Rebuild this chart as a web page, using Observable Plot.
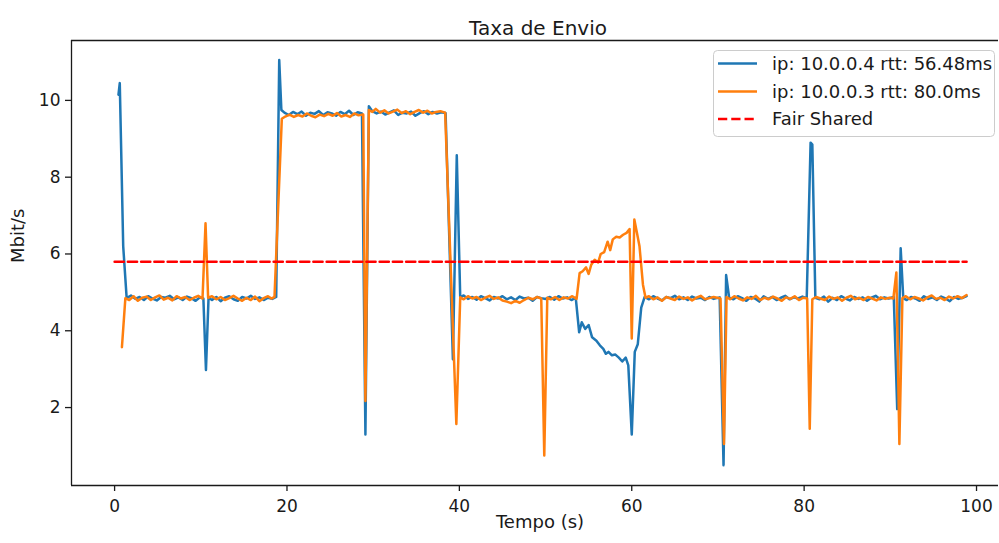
<!DOCTYPE html>
<html>
<head>
<meta charset="utf-8">
<script src="https://cdn.jsdelivr.net/npm/d3@7"></script>
<script src="https://cdn.jsdelivr.net/npm/@observablehq/plot@0.6"></script>
<style>
  html, body { margin: 0; padding: 0; background: #fff; }
  #wrap { position: relative; width: 999px; height: 543px; font-family: "DejaVu Sans", sans-serif; }
  #legend { position: absolute; left: 713px; top: 50px; }
</style>
</head>
<body>
<div id="wrap"></div>
<script>
const title = "Taxa de Envio";
const xLabel = "Tempo (s)";
const yLabel = "Mbit/s";
const xTicks = [0, 20, 40, 60, 80, 100];
const yTicks = [2, 4, 6, 8, 10];
const seriesNames = ["ip: 10.0.0.4 rtt: 56.48ms", "ip: 10.0.0.3 rtt: 80.0ms", "Fair Shared"];
const seriesColors = ["#1f77b4", "#ff7f0e", "#ff0000"];

// ip 10.0.0.4 : [time (s), rate (Mbit/s)]
const blueSeries = [
  [0.45,10.15],[0.6,10.45],[1.0,6.2],[1.4,4.85],
  [1.9,4.92],[2.4,4.83],[2.9,4.88],[3.4,4.80],[3.9,4.90],[4.4,4.84],[4.9,4.79],[5.4,4.88],[5.9,4.86],[6.4,4.91],
  [6.9,4.82],[7.4,4.87],[7.9,4.80],[8.4,4.89],[8.9,4.85],[9.4,4.78],[9.9,4.87],[10.3,4.84],[10.6,2.98],[10.9,4.86],
  [11.3,4.80],[11.8,4.88],[12.3,4.77],[12.8,4.86],[13.3,4.90],[13.8,4.82],[14.3,4.78],[14.8,4.88],[15.3,4.84],
  [15.8,4.91],[16.3,4.83],[16.8,4.87],[17.3,4.80],[17.8,4.86],[18.3,4.83],[18.75,4.88],
  [19.1,11.05],[19.35,9.75],[19.7,9.68],
  [20.2,9.62],[20.7,9.70],[21.2,9.64],[21.7,9.71],[22.2,9.60],[22.7,9.68],[23.2,9.65],[23.7,9.72],[24.2,9.62],
  [24.7,9.69],[25.2,9.66],[25.7,9.60],[26.2,9.70],[26.7,9.64],[27.2,9.73],[27.7,9.62],[28.2,9.69],[28.7,9.66],
  [29.1,1.3],[29.5,9.85],[29.9,9.72],[30.4,9.66],[30.9,9.71],[31.4,9.63],[31.9,9.69],[32.4,9.74],[32.9,9.62],
  [33.4,9.68],[33.9,9.66],[34.4,9.71],[34.9,9.60],[35.4,9.67],[35.9,9.72],[36.4,9.64],[36.9,9.70],[37.4,9.66],
  [37.9,9.69],[38.4,9.67],
  [39.25,3.26],[39.7,8.57],[40.1,4.87],
  [40.5,4.92],[41.0,4.83],[41.5,4.88],[42.0,4.81],[42.5,4.90],[43.0,4.85],[43.5,4.79],[44.0,4.88],[44.5,4.84],
  [45.0,4.90],[45.5,4.82],[46.0,4.87],[46.5,4.80],[47.0,4.89],[47.5,4.84],[48.0,4.86],[48.5,4.78],[49.0,4.88],
  [49.5,4.85],[50.0,4.83],[50.5,4.88],[51.0,4.81],[51.5,4.90],[52.0,4.84],[52.5,4.87],[53.0,4.80],[53.5,4.86],
  [53.9,3.96],[54.2,4.22],[54.6,4.05],[55.0,4.15],[55.4,3.83],[55.9,3.74],[56.3,3.62],[56.7,3.53],[57.0,3.40],
  [57.3,3.45],[57.7,3.36],[58.1,3.38],[58.5,3.30],[58.9,3.20],[59.3,3.30],[59.6,3.10],[60.0,1.3],[60.35,3.45],
  [60.7,3.65],[61.1,4.6],[61.5,4.88],
  [62.0,4.82],[62.5,4.90],[63.0,4.84],[63.5,4.79],[64.0,4.88],[64.5,4.85],[65.0,4.91],[65.5,4.82],[66.0,4.87],
  [66.5,4.80],[67.0,4.89],[67.5,4.84],[68.0,4.86],[68.5,4.80],[69.0,4.88],[69.5,4.83],[70.2,4.87],
  [70.65,0.5],[70.95,5.45],[71.3,4.86],
  [71.8,4.82],[72.3,4.90],[72.8,4.85],[73.3,4.78],[73.8,4.88],[74.3,4.84],[74.8,4.76],[75.3,4.90],[75.8,4.83],
  [76.3,4.88],[76.8,4.80],[77.3,4.86],[77.8,4.91],[78.3,4.82],[78.8,4.87],[79.3,4.84],[79.8,4.89],[80.3,4.85],
  [80.75,8.9],[80.95,8.85],[81.3,4.86],
  [81.8,4.82],[82.3,4.89],[82.8,4.76],[83.3,4.86],[83.8,4.80],[84.3,4.90],[84.8,4.84],[85.3,4.79],[85.8,4.88],
  [86.3,4.83],[86.8,4.87],[87.3,4.78],[87.8,4.86],[88.3,4.91],[88.8,4.82],[89.3,4.87],[89.8,4.84],[90.4,4.88],
  [90.8,1.96],[91.2,6.15],[91.5,4.85],
  [91.9,4.80],[92.4,4.88],[92.9,4.84],[93.4,4.78],[93.9,4.90],[94.4,4.83],[94.9,4.87],[95.4,4.80],[95.9,4.89],
  [96.4,4.84],[96.9,4.77],[97.4,4.88],[97.9,4.83],[98.4,4.86],[98.85,4.90]
];

// ip 10.0.0.3 : [time (s), rate (Mbit/s)]
const orangeSeries = [
  [0.85,3.57],[1.25,4.85],
  [1.7,4.80],[2.2,4.90],[2.7,4.78],[3.2,4.86],[3.7,4.89],[4.2,4.80],[4.7,4.87],[5.2,4.92],[5.7,4.81],[6.2,4.86],
  [6.7,4.79],[7.2,4.90],[7.7,4.84],[8.2,4.88],[8.7,4.80],[9.2,4.86],[9.7,4.91],[10.2,4.84],[10.55,6.8],[10.85,4.86],
  [11.3,4.90],[11.8,4.82],[12.3,4.88],[12.8,4.80],[13.3,4.85],[13.8,4.91],[14.3,4.84],[14.8,4.78],[15.3,4.86],
  [15.8,4.80],[16.3,4.89],[16.8,4.77],[17.3,4.85],[17.8,4.90],[18.2,4.84],[18.55,4.88],
  [19.4,9.52],[19.8,9.58],[20.3,9.63],[20.8,9.57],[21.3,9.62],[21.8,9.58],[22.3,9.66],[22.8,9.60],[23.3,9.56],
  [23.8,9.63],[24.3,9.59],[24.8,9.65],[25.3,9.60],[25.8,9.67],[26.3,9.58],[26.8,9.62],[27.3,9.57],[27.8,9.66],
  [28.3,9.61],[28.85,9.63],
  [29.1,2.17],[29.5,9.75],[29.9,9.70],[30.3,9.78],[30.8,9.68],[31.3,9.74],[31.8,9.66],[32.3,9.71],[32.8,9.76],
  [33.3,9.67],[33.8,9.72],[34.3,9.64],[34.8,9.70],[35.3,9.75],[35.8,9.68],[36.3,9.73],[36.8,9.66],[37.3,9.70],
  [37.8,9.72],[38.35,9.68],
  [39.65,1.57],[40.1,4.87],
  [40.5,4.82],[41.0,4.90],[41.5,4.84],[42.0,4.88],[42.5,4.80],[43.0,4.86],[43.5,4.91],[44.0,4.83],[44.5,4.87],
  [45.0,4.79],[45.5,4.76],[46.0,4.72],[46.5,4.78],[47.0,4.73],[47.5,4.80],[48.0,4.86],[48.5,4.82],[49.0,4.88],
  [49.5,4.84],[49.85,0.75],[50.2,4.86],[50.6,4.82],[51.1,4.88],[51.6,4.80],[52.1,4.87],[52.6,4.84],[53.1,4.90],
  [53.6,4.83],
  [53.95,5.50],[54.3,5.55],[54.7,5.65],[55.0,5.48],[55.3,5.72],[55.7,5.85],[56.1,5.78],[56.4,6.00],[56.8,6.05],
  [57.2,6.32],[57.5,6.10],[57.8,6.38],[58.2,6.45],[58.6,6.43],[59.0,6.50],[59.4,6.55],[59.75,6.65],[60.0,3.8],
  [60.3,6.9],[60.6,6.55],[60.9,6.2],[61.3,5.2],[61.6,4.86],
  [62.0,4.90],[62.5,4.82],[63.0,4.87],[63.5,4.78],[64.0,4.88],[64.5,4.84],[65.0,4.80],[65.5,4.89],[66.0,4.83],
  [66.5,4.87],[67.0,4.79],[67.5,4.86],[68.0,4.91],[68.5,4.82],[69.0,4.85],[69.5,4.88],[70.3,4.84],
  [70.7,1.05],[71.0,4.88],
  [71.4,4.82],[71.9,4.90],[72.4,4.84],[72.9,4.79],[73.4,4.87],[73.9,4.83],[74.4,4.91],[74.9,4.80],[75.4,4.86],
  [75.9,4.82],[76.4,4.89],[76.9,4.84],[77.4,4.78],[77.9,4.87],[78.4,4.83],[78.9,4.90],[79.4,4.80],[79.9,4.86],
  [80.35,4.84],[80.65,1.45],[80.95,4.82],
  [81.4,4.88],[81.9,4.84],[82.4,4.80],[82.9,4.89],[83.4,4.83],[83.9,4.87],[84.4,4.78],[84.9,4.86],[85.4,4.91],
  [85.9,4.82],[86.4,4.86],[86.9,4.80],[87.4,4.88],[87.9,4.84],[88.4,4.79],[88.9,4.87],[89.4,4.83],[89.9,4.86],
  [90.35,4.84],[90.7,5.52],[91.05,1.05],[91.4,4.85],
  [91.8,4.90],[92.3,4.82],[92.8,4.88],[93.3,4.84],[93.8,4.79],[94.3,4.87],[94.8,4.92],[95.3,4.83],[95.8,4.86],
  [96.3,4.80],[96.8,4.89],[97.3,4.84],[97.8,4.90],[98.3,4.85],[98.85,4.93]
];

// fair share line
const fairSeries = [[0, 5.8], [98.85, 5.8]];

const xDomain = [-5.0, 102.55];
const yDomain = [-0.03, 11.56];

const ink = "#1a1a1a";
const chart = Plot.plot({
  width: 999,
  height: 543,
  marginLeft: 71,
  marginRight: 1,
  marginTop: 40,
  marginBottom: 58,
  x: { domain: xDomain },
  y: { domain: yDomain },
  style: { fontFamily: "DejaVu Sans", fontSize: "17px", color: ink, background: "#fff" },
  marks: [
    Plot.axisX({ ticks: xTicks, tickSize: 6, tickPadding: 8, label: null, stroke: ink, strokeWidth: 1.3, tickFormat: d => String(d) }),
    Plot.axisY({ ticks: yTicks, tickSize: 6, tickPadding: 5, label: null, stroke: ink, strokeWidth: 1.3, tickFormat: d => String(d) }),
    Plot.line(blueSeries, { stroke: seriesColors[0], strokeWidth: 2.5, strokeLinejoin: "round" }),
    Plot.line(orangeSeries, { stroke: seriesColors[1], strokeWidth: 2.5, strokeLinejoin: "round" }),
    Plot.line(fairSeries, { stroke: seriesColors[2], strokeWidth: 2.5, strokeDasharray: "9.25,4" }),
    Plot.ruleY([yDomain[1]], { stroke: ink, strokeWidth: 1.3 }),
    Plot.ruleY([yDomain[0]], { stroke: ink, strokeWidth: 1.3 }),
    Plot.ruleX([xDomain[0]], { stroke: ink, strokeWidth: 1.3 }),
    Plot.text([title], { frameAnchor: "top", dy: -20, dx: 3, fontSize: 20, fill: ink }),
    Plot.text([xLabel], { frameAnchor: "bottom", dy: 42, dx: 5, fontSize: 18, fill: ink }),
    Plot.text([yLabel], { frameAnchor: "left", dx: -53, rotate: -90, fontSize: 18, fill: ink })
  ]
});

const wrap = document.getElementById("wrap");
wrap.appendChild(chart);

// legend
const lw = 282, lh = 87;
const legend = d3.create("svg")
  .attr("id", "legend")
  .attr("width", lw)
  .attr("height", lh)
  .style("font-family", "DejaVu Sans")
  .style("font-size", "18px");
legend.append("rect")
  .attr("x", 0.5).attr("y", 0.5).attr("width", lw - 1).attr("height", lh - 1)
  .attr("rx", 4).attr("fill", "#fff").attr("fill-opacity", 0.85).attr("stroke", "#cccccc");
const rowY = [13.5, 41.5, 69];
seriesNames.forEach((name, i) => {
  legend.append("line")
    .attr("x1", 5).attr("x2", 44).attr("y1", rowY[i]).attr("y2", rowY[i])
    .attr("stroke", seriesColors[i]).attr("stroke-width", 2.5)
    .attr("stroke-dasharray", i === 2 ? "9.25,4" : null);
  legend.append("text")
    .attr("x", 59).attr("y", rowY[i]).attr("dy", "0.35em")
    .attr("fill", ink).text(name);
});
wrap.appendChild(legend.node());
</script>
</body>
</html>
